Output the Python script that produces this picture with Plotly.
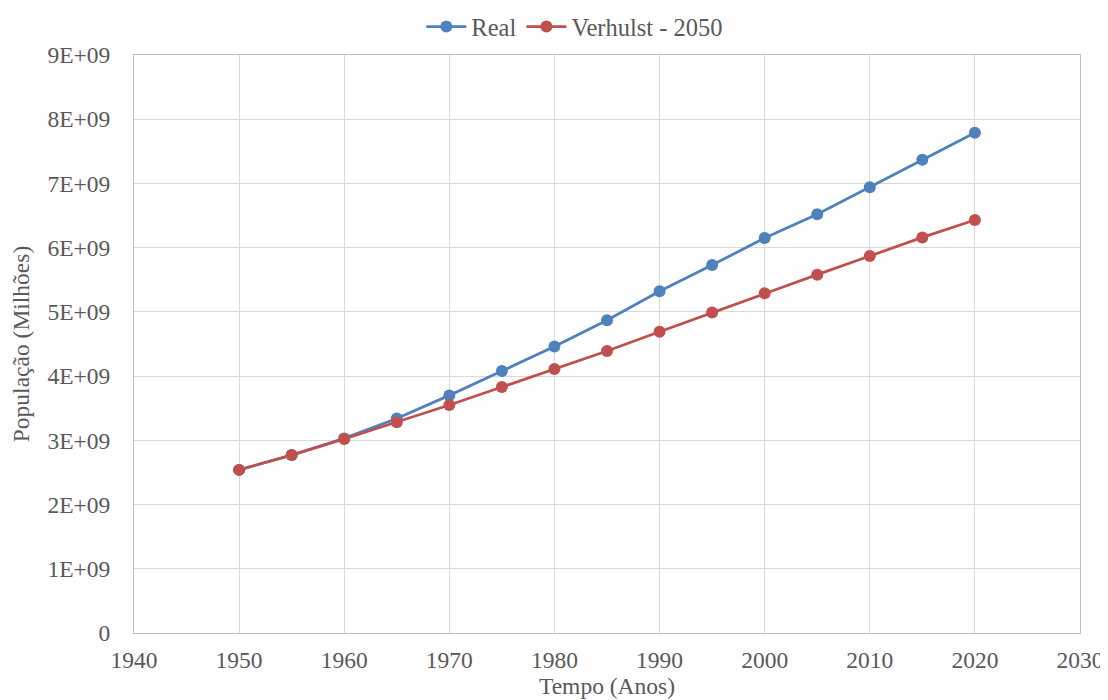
import plotly.graph_objects as go

years = [1950, 1955, 1960, 1965, 1970, 1975, 1980, 1985, 1990, 1995, 2000, 2005, 2010, 2015, 2020]
real = [2.54e9, 2.77e9, 3.03e9, 3.34e9, 3.70e9, 4.08e9, 4.46e9, 4.87e9, 5.32e9, 5.73e9, 6.15e9, 6.52e9, 6.94e9, 7.37e9, 7.79e9]
verhulst = [2.54e9, 2.77e9, 3.02e9, 3.28e9, 3.55e9, 3.83e9, 4.11e9, 4.39e9, 4.69e9, 4.99e9, 5.29e9, 5.58e9, 5.87e9, 6.16e9, 6.43e9]

x_ticks = list(range(1940, 2031, 10))
y_ticks = [i * 1e9 for i in range(10)]
y_labels = ["0"] + [f"{i}E+09" for i in range(1, 10)]

font_family = "Liberation Serif"
txt = "#595959"
fs = 23.5

fig = go.Figure()
fig.add_trace(go.Scatter(x=years, y=real, name="Real", mode="lines+markers",
                         line=dict(color="#4F81BD", width=2.75),
                         marker=dict(color="#4F81BD", size=12)))
fig.add_trace(go.Scatter(x=years, y=verhulst, name="Verhulst - 2050", mode="lines+markers",
                         line=dict(color="#C0504D", width=2.75),
                         marker=dict(color="#C0504D", size=12)))

fig.update_layout(
    width=1100, height=692,
    margin=dict(l=126, r=28, t=47, b=67, autoexpand=False),
    paper_bgcolor="white", plot_bgcolor="white",
    font=dict(family=font_family, size=fs, color=txt),
    legend=dict(orientation="h", x=0.466, xanchor="center", y=1.088, yanchor="top",
                font=dict(family=font_family, size=24.5, color=txt), itemwidth=40,
                bgcolor="rgba(0,0,0,0)"),
    showlegend=True,
)
fig.update_xaxes(range=[1940, 2030], tickvals=x_ticks, ticktext=[str(v) for v in x_ticks],
                 showgrid=True, gridcolor="#d9d9d9", gridwidth=1,
                 showline=True, linecolor="#bfbfbf", linewidth=1, mirror=True,
                 zeroline=False, ticks="", ticklabelstandoff=6, automargin=False,
                 tickfont=dict(family=font_family, size=fs, color=txt),
                 title=dict(text="Tempo (Anos)", font=dict(family=font_family, size=fs, color=txt), standoff=4))
fig.update_yaxes(range=[0, 9e9], tickvals=y_ticks, ticktext=y_labels,
                 showgrid=True, gridcolor="#d9d9d9", gridwidth=1,
                 showline=True, linecolor="#bfbfbf", linewidth=1, mirror=True,
                 zeroline=False, ticks="", ticklabelstandoff=18, automargin=False,
                 tickfont=dict(family=font_family, size=fs, color=txt),
                 title=dict(text="População (Milhões)", font=dict(family=font_family, size=fs, color=txt), standoff=12))

fig.write_html("out.html")
